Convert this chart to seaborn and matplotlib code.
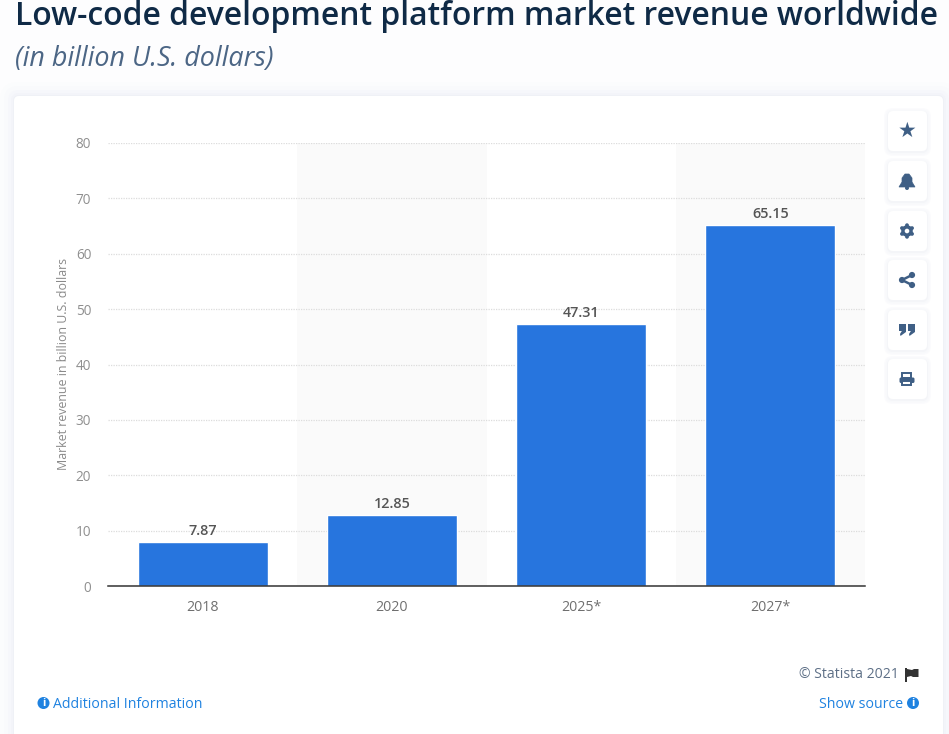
import numpy as np
import pandas as pd
import matplotlib
matplotlib.use("Agg")
import matplotlib.pyplot as plt
from matplotlib.patches import FancyBboxPatch, Rectangle, Circle, Polygon
import seaborn as sns

years = ["2018", "2020", "2025*", "2027*"]
revenue = [7.87, 12.85, 47.31, 65.15]
value_labels = ["7.87", "12.85", "47.31", "65.15"]
y_ticks = [0, 10, 20, 30, 40, 50, 60, 70, 80]

W, H = 949, 734
sns.set_theme(style="white")
plt.rcParams["font.family"] = ["Open Sans", "DejaVu Sans"]

fig = plt.figure(figsize=(W / 100, H / 100), dpi=100, facecolor="#fdfdfe")

# page layer in pixel coordinates
bg = fig.add_axes([0, 0, 1, 1], zorder=0)
bg.set_xlim(0, W)
bg.set_ylim(H, 0)
bg.axis("off")
for grow, col in [(14, "#fbfcfd"), (10, "#f9fafc"), (6, "#f6f7fb"), (3, "#f3f4f9"), (1, "#eff1f6")]:
    bg.add_patch(FancyBboxPatch((14 - grow, 96 - grow), 929 + 2 * grow, 700,
                                boxstyle=f"round,pad=0,rounding_size={5 + grow}", fc=col, ec="none"))
bg.add_patch(FancyBboxPatch((14, 96), 929, 700,
                            boxstyle="round,pad=0,rounding_size=5", fc="white", ec="none"))

bg.text(15, 25, "Low-code development platform market revenue worldwide",
        fontsize=22.95, fontweight="semibold", color="#0f2a46", va="baseline", ha="left")
bg.text(15, 59, "(in billion U.S. dollars)", fontsize=19.4, style="italic",
        color="#4c6685", va="center", ha="left")

# side buttons
icon = "#3f5f85"
centers = [131, 181, 231, 280, 330, 379]
for cy in centers:
    for grow, col in [(4, "#fbfbfd"), (2.5, "#f8f9fb"), (1, "#f4f5f8")]:
        bg.add_patch(FancyBboxPatch((888 - grow, cy - 20 - grow + 1), 39 + 2 * grow, 40 + 2 * grow,
                                    boxstyle=f"round,pad=0,rounding_size={5 + grow}", fc=col, ec="none"))
    bg.add_patch(FancyBboxPatch((888, cy - 20), 39, 40, boxstyle="round,pad=0,rounding_size=5",
                                fc="white", ec="none"))
cx = 907
bg.text(cx, centers[0], "\u2605", family="DejaVu Sans", fontsize=15, color=icon, ha="center", va="center")
# bell
cy = centers[1]
bg.add_patch(Polygon([(cx - 8, cy + 6), (cx - 5, cy + 1), (cx - 5, cy - 3), (cx - 2, cy - 7), (cx + 2, cy - 7),
                      (cx + 5, cy - 3), (cx + 5, cy + 1), (cx + 8, cy + 6)], fc=icon, ec=icon, lw=0.5))
bg.add_patch(Circle((cx, cy + 7), 2, fc=icon, ec="none"))
# gear
cy = centers[2]
for a in np.arange(0, 360, 60):
    r = np.deg2rad(a + 30)
    bg.add_patch(Circle((cx + 5.8 * np.cos(r), cy + 5.8 * np.sin(r)), 1.9, fc=icon, ec="none"))
bg.add_patch(Circle((cx, cy), 5.8, fc=icon, ec="none"))
bg.add_patch(Circle((cx, cy), 2.3, fc="white", ec="none"))
# share
cy = centers[3]
pts = [(cx + 5, cy - 5), (cx - 5, cy), (cx + 5, cy + 5)]
bg.plot([p[0] for p in pts], [p[1] for p in pts], color=icon, lw=1.8)
for p in pts:
    bg.add_patch(Circle(p, 3.1, fc=icon, ec="none"))
# quote
cy = centers[4]
for dx in (-4.5, 4.5):
    bg.add_patch(Rectangle((cx + dx - 3.5, cy - 6), 7, 7, fc=icon, ec="none"))
    bg.add_patch(Polygon([(cx + dx + 3.5, cy), (cx + dx + 3.5, cy + 2), (cx + dx - 2, cy + 6), (cx + dx - 2.5, cy + 4),
                          (cx + dx, cy)], fc=icon, ec="none"))
# printer
cy = centers[5]
bg.add_patch(Rectangle((cx - 4.5, cy - 6), 9, 5, fc="white", ec=icon, lw=1.4))
bg.add_patch(FancyBboxPatch((cx - 7.5, cy - 1.5), 15, 5.5, boxstyle="round,pad=0,rounding_size=1.5", fc=icon, ec="none"))
bg.add_patch(Rectangle((cx - 4.5, cy + 1.5), 9, 4, fc="white", ec=icon, lw=1.4))

# footer
bg.text(899, 675, "\u00a9 Statista 2021", fontsize=10.1, color="#5d6f86", ha="right", va="center")
bg.add_patch(Rectangle((905.5, 668), 1.4, 14, fc="#333333", ec="none"))
bg.add_patch(Polygon([(907, 669), (912, 670), (914, 669), (918.5, 669), (918.5, 677), (913, 677), (911, 676), (907, 677)],
                     fc="#333333", ec="none"))
link = "#1f82e0"
def info(x, y):
    bg.add_patch(Circle((x, y), 6, fc=link, ec="none"))
    bg.text(x, y, "i", fontsize=8, fontweight="bold", color="white", ha="center", va="center")
info(43.5, 703)
bg.text(53, 704, "Additional Information", fontsize=10.2, color=link, ha="left", va="center")
bg.text(903, 704, "Show source", fontsize=10.2, color=link, ha="right", va="center")
info(913, 703)

# chart
left, right, top, bottom = 108, 865, 143, 586
ax = fig.add_axes([left / W, 1 - bottom / H, (right - left) / W, (bottom - top) / H], zorder=2)
ax.patch.set_alpha(0)
df = pd.DataFrame({"year": years, "revenue": revenue})
for i in (1, 3):
    ax.axvspan(i - 0.5, i + 0.5, color="#fafafa", lw=0, zorder=0)
sns.barplot(data=df, x="year", y="revenue", color="#2775de", saturation=1, width=0.687, ax=ax, zorder=3)
ax.set_xlim(-0.5, 3.5)
ax.set_ylim(0, 80)
ax.set_yticks(y_ticks)
ax.yaxis.grid(True, color="#dcdcdc", lw=0.9, ls=(0, (1, 1)), zorder=1)
ax.xaxis.grid(False)
ax.set_axisbelow(True)
for s in ("top", "right", "left"):
    ax.spines[s].set_visible(False)
ax.spines["bottom"].set_color("#333333")
ax.spines["bottom"].set_linewidth(1.1)
ax.spines["bottom"].set_zorder(5)
ax.tick_params(axis="y", length=0, pad=12, labelsize=9.8, labelcolor="#8f8f8f")
ax.tick_params(axis="x", length=0, pad=10, labelsize=10.2, labelcolor="#6f6f6f")
ax.set_xlabel("")
ax.set_ylabel("Market revenue in billion U.S. dollars", fontsize=8.9, color="#8a8a8a", labelpad=4)
ax.bar_label(ax.containers[0], labels=value_labels, padding=3, fontsize=10.4,
             fontweight="semibold", color="#555555")

fig.savefig("out.png", dpi=100, facecolor=fig.get_facecolor())
